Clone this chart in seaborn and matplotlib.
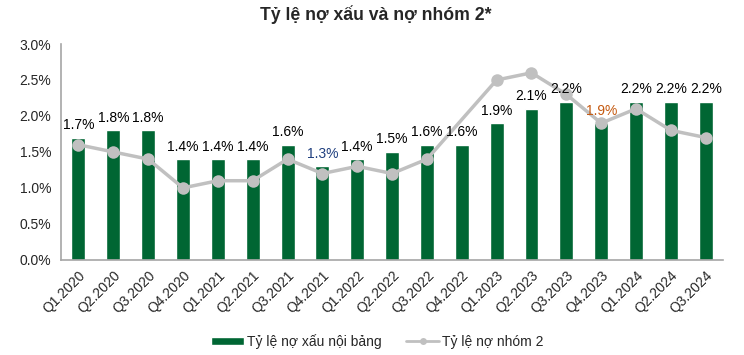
"""Ty le no xau va no nhom 2 - bar + line chart."""
import matplotlib
matplotlib.use("Agg")
import matplotlib.pyplot as plt
import numpy as np
import pandas as pd
import seaborn as sns
from matplotlib.lines import Line2D
from matplotlib.patches import Patch

quarters = [
    "Q1.2020", "Q2.2020", "Q3.2020", "Q4.2020",
    "Q1.2021", "Q2.2021", "Q3.2021", "Q4.2021",
    "Q1.2022", "Q2.2022", "Q3.2022", "Q4.2022",
    "Q1.2023", "Q2.2023", "Q3.2023", "Q4.2023",
    "Q1.2024", "Q2.2024", "Q3.2024",
]
npl_on_balance = [1.7, 1.8, 1.8, 1.4, 1.4, 1.4, 1.6, 1.3, 1.4, 1.5,
                  1.6, 1.6, 1.9, 2.1, 2.2, 1.9, 2.2, 2.2, 2.2]
# no marker is visible for Q4.2022 in the source, treat it as missing
group2_ratio = [1.6, 1.5, 1.4, 1.0, 1.1, 1.1, 1.4, 1.2, 1.3, 1.2,
                1.4, np.nan, 2.5, 2.6, 2.3, 1.9, 2.1, 1.8, 1.7]

bar_label = "Tỷ lệ nợ xấu nội bảng"
line_label = "Tỷ lệ nợ nhóm 2"
title = "Tỷ lệ nợ xấu và nợ nhóm 2*"

GREEN = "#006633"
GREY = "#c0c0c0"
AXIS = "#a6a6a6"

sns.set_theme(style="white")
plt.rcParams["font.family"] = ["Liberation Sans", "DejaVu Sans"]

df = pd.DataFrame({"quarter": quarters, "npl": npl_on_balance,
                   "g2": group2_ratio, "pos": np.arange(len(quarters))})

fig = plt.figure(figsize=(7.44, 3.55), dpi=100)
ax = fig.add_axes([0.082, 0.268, 0.89, 0.608])

sns.barplot(data=df, x="quarter", y="npl", color=GREEN, width=0.4,
            saturation=1, ax=ax, zorder=2)
sns.lineplot(data=df.dropna(subset=["g2"]), x="pos", y="g2", color=GREY,
             linewidth=2.5, marker="o", markersize=9, markeredgewidth=0,
             ax=ax, zorder=3)

label_colors = {7: "#1f3f7f", 15: "#c55a11"}
for i, v in enumerate(npl_on_balance):
    ax.annotate(f"{v:.1f}%", (i, v), xytext=(0, 4), textcoords="offset points",
                ha="center", va="bottom", fontsize=10,
                color=label_colors.get(i, "black"), zorder=4)

ax.set_ylim(0, 3.0)
ax.set_xlim(-0.5, len(quarters) - 0.5)
ax.set_yticks(np.arange(0, 3.01, 0.5))
ax.set_yticklabels([f"{t:.1f}%" for t in np.arange(0, 3.01, 0.5)], fontsize=10)
ax.set_xticks(range(len(quarters)))
ax.set_xticklabels(quarters, rotation=45, ha="right", rotation_mode="anchor",
                   fontsize=10)
ax.tick_params(axis="x", length=0, pad=6)
ax.set_xticks(np.arange(-0.5, len(quarters)), minor=True)
ax.tick_params(axis="x", which="minor", length=4, color=AXIS, direction="out")
ax.tick_params(axis="y", length=4, color=AXIS, direction="out", pad=3)
ax.set_xlabel("")
ax.set_ylabel("")
for side in ["top", "right"]:
    ax.spines[side].set_visible(False)
for side in ["left", "bottom"]:
    ax.spines[side].set_color(AXIS)
    ax.spines[side].set_linewidth(1.2)

fig.text(0.505, 0.958, title, fontsize=12.7, fontweight="bold",
         ha="center", va="center")

handles = [Patch(facecolor=GREEN, label=bar_label),
           Line2D([0], [0], color=GREY, linewidth=2, marker="o",
                  markersize=5, markeredgewidth=0, label=line_label)]
fig.legend(handles=handles, loc="center", bbox_to_anchor=(0.507, 0.039),
           ncol=2, frameon=False, fontsize=10, handlelength=2.37,
           handletextpad=0.2, columnspacing=1.8, handleheight=0.5)

fig.savefig("out.png", dpi=100)
